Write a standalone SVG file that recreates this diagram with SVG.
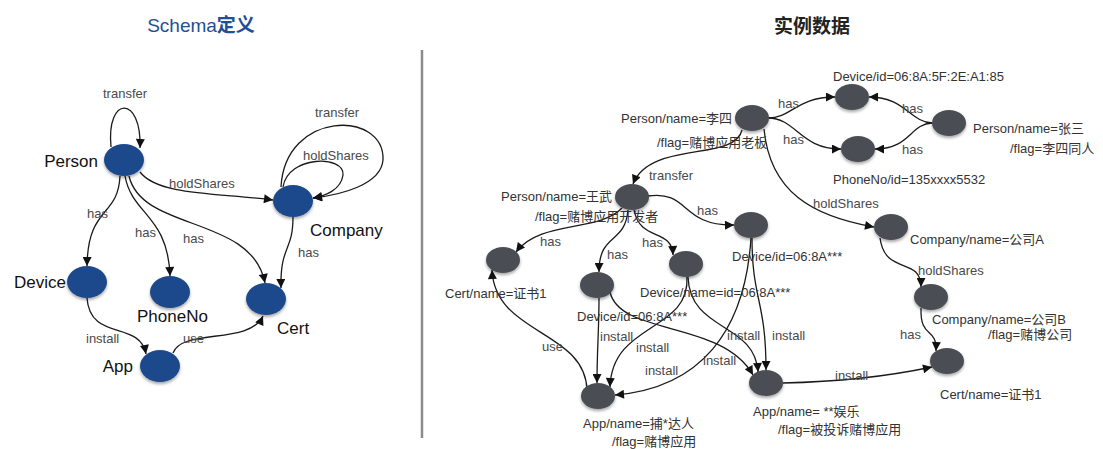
<svg xmlns="http://www.w3.org/2000/svg" width="1103" height="449" viewBox="0 0 1103 449">
  <style>
    text { font-family: "Liberation Sans", "Noto Sans CJK SC", sans-serif; }
    .title { font-size: 19px; }
    .schema-node { fill: #1c4a8b; filter: url(#shadow); }
    .data-node { fill: #4b4e55; filter: url(#shadow); }
    .schema-label { font-size: 17px; fill: #111; }
    .data-label { font-size: 13px; fill: #333; }
    .edge-label { font-size: 13px; fill: #4a4a4a; }
    .edge { fill: none; stroke: #1a1a1a; stroke-width: 1.3; marker-end: url(#arrow); }
  </style>
  <defs>
    <marker id="arrow" viewBox="0 0 10 10" refX="10" refY="5" markerWidth="10" markerHeight="9" markerUnits="userSpaceOnUse" orient="auto">
      <path d="M0,0 L10,5 L0,10 z" fill="#111"/>
    </marker>
    <filter id="shadow" x="-30%" y="-30%" width="160%" height="170%">
      <feDropShadow dx="0" dy="2" stdDeviation="1.6" flood-color="#000" flood-opacity="0.35"/>
    </filter>
  </defs>

  <rect width="1103" height="449" fill="#fff"/>

  <!-- headings and panel divider -->
  <text class="title" x="201" y="32" text-anchor="middle" fill="#1f4f96">Schema<tspan font-weight="bold">定义</tspan></text>
  <text class="title" x="812" y="33" text-anchor="middle" font-weight="bold" fill="#222">实例数据</text>
  <line x1="422" y1="50" x2="422" y2="438" stroke="#8c8c8c" stroke-width="2.5"/>

  <!-- connectors -->
  <g id="connectors">
    <!-- schema -->
    <path class="edge" d="M111 147 C106 95 142 95 140 148"/>
    <path class="edge" d="M140 172 C158 196 222 193 273 200"/>
    <path class="edge" d="M281 187 C285 110 385 110 383 160 C381 185 340 195 313 198"/>
    <path class="edge" d="M283 187 C288 155 345 155 343 175 C341 190 325 196 313 198"/>
    <path class="edge" d="M120 176 C118 218 88 205 87 266"/>
    <path class="edge" d="M125 176 C132 215 168 215 170 276"/>
    <path class="edge" d="M129 176 C142 232 252 215 265 283"/>
    <path class="edge" d="M293 217 C293 252 280 245 281 288"/>
    <path class="edge" d="M87 298 C90 342 140 320 146 354"/>
    <path class="edge" d="M173 353 C182 328 250 345 263 316"/>

    <!-- instance data -->
    <path class="edge" d="M768 118 C792 118 796 97 835 97"/>
    <path class="edge" d="M768 118 C796 118 800 149 841 149"/>
    <path class="edge" d="M932 123 C910 122 905 97 869 97"/>
    <path class="edge" d="M932 123 C910 124 910 149 875 149"/>
    <path class="edge" d="M742 130 C735 162 650 140 633 184"/>
    <path class="edge" d="M764 129 C770 192 812 216 874 227"/>
    <path class="edge" d="M648 196 C690 190 680 226 734 225"/>
    <path class="edge" d="M622 208 C600 232 540 220 516 252"/>
    <path class="edge" d="M628 210 C625 245 599 232 599 272"/>
    <path class="edge" d="M634 210 C640 242 672 228 673 255"/>
    <path class="edge" d="M599 298 C599 330 597 350 597 383"/>
    <path class="edge" d="M687 277 C690 332 612 322 610 387"/>
    <path class="edge" d="M751 238 C745 332 700 388 615 395"/>
    <path class="edge" d="M610 292 C620 336 722 320 753 375"/>
    <path class="edge" d="M688 277 C690 332 755 322 758 372"/>
    <path class="edge" d="M752 238 C752 300 766 300 766 370"/>
    <path class="edge" d="M587 390 C585 330 495 335 492 270"/>
    <path class="edge" d="M783 383 C830 382 880 378 932 367"/>
    <path class="edge" d="M880 238 C885 276 921 256 921 287"/>
    <path class="edge" d="M921 308 C920 340 937 326 936 351"/>
  </g>

  <!-- connector labels -->
  <g id="connector-labels">
    <text class="edge-label" x="103" y="98">transfer</text>
    <text class="edge-label" x="169" y="188">holdShares</text>
    <text class="edge-label" x="315" y="117">transfer</text>
    <text class="edge-label" x="303" y="160">holdShares</text>
    <text class="edge-label" x="87" y="218">has</text>
    <text class="edge-label" x="135" y="237">has</text>
    <text class="edge-label" x="183" y="243">has</text>
    <text class="edge-label" x="298" y="257">has</text>
    <text class="edge-label" x="86" y="343">install</text>
    <text class="edge-label" x="183" y="343">use</text>

    <text class="edge-label" x="778" y="108">has</text>
    <text class="edge-label" x="783" y="144">has</text>
    <text class="edge-label" x="902" y="113">has</text>
    <text class="edge-label" x="902" y="154">has</text>
    <text class="edge-label" x="649" y="180">transfer</text>
    <text class="edge-label" x="813" y="208">holdShares</text>
    <text class="edge-label" x="697" y="215">has</text>
    <text class="edge-label" x="540" y="246">has</text>
    <text class="edge-label" x="607" y="259">has</text>
    <text class="edge-label" x="642" y="247">has</text>
    <text class="edge-label" x="600" y="341">install</text>
    <text class="edge-label" x="636" y="352">install</text>
    <text class="edge-label" x="645" y="375">install</text>
    <text class="edge-label" x="703" y="365">install</text>
    <text class="edge-label" x="727" y="340">install</text>
    <text class="edge-label" x="772" y="340">install</text>
    <text class="edge-label" x="835" y="380">install</text>
    <text class="edge-label" x="542" y="351">use</text>
    <text class="edge-label" x="918" y="275">holdShares</text>
    <text class="edge-label" x="900" y="339">has</text>
  </g>

  <!-- schema nodes -->
  <g id="schema-person">
    <ellipse class="schema-node" cx="124" cy="160" rx="20" ry="16"/>
    <text class="schema-label" x="98" y="167" text-anchor="end">Person</text>
  </g>
  <g id="schema-company">
    <ellipse class="schema-node" cx="293" cy="201" rx="20" ry="16"/>
    <text class="schema-label" x="310" y="236">Company</text>
  </g>
  <g id="schema-device">
    <ellipse class="schema-node" cx="87" cy="282" rx="20" ry="16"/>
    <text class="schema-label" x="66" y="288" text-anchor="end">Device</text>
  </g>
  <g id="schema-phoneno">
    <ellipse class="schema-node" cx="170" cy="292" rx="20" ry="16"/>
    <text class="schema-label" x="137" y="322">PhoneNo</text>
  </g>
  <g id="schema-cert">
    <ellipse class="schema-node" cx="266" cy="299" rx="20" ry="16"/>
    <text class="schema-label" x="277" y="334">Cert</text>
  </g>
  <g id="schema-app">
    <ellipse class="schema-node" cx="160" cy="366" rx="20" ry="16"/>
    <text class="schema-label" x="133" y="372" text-anchor="end">App</text>
  </g>

  <!-- instance nodes -->
  <g id="person-lisi">
    <ellipse class="data-node" cx="752" cy="118" rx="17" ry="13"/>
    <text class="data-label" x="732" y="123" text-anchor="end">Person/name=李四</text>
    <text class="data-label" x="657" y="147">/flag=赌博应用老板</text>
  </g>
  <g id="device-5f2e">
    <ellipse class="data-node" cx="852" cy="97" rx="17" ry="13"/>
    <text class="data-label" x="833" y="81">Device/id=06:8A:5F:2E:A1:85</text>
  </g>
  <g id="phone-5532">
    <ellipse class="data-node" cx="858" cy="149" rx="17" ry="13"/>
    <text class="data-label" x="833" y="184">PhoneNo/id=135xxxx5532</text>
  </g>
  <g id="person-zhangsan">
    <ellipse class="data-node" cx="949" cy="123" rx="17" ry="13"/>
    <text class="data-label" x="973" y="133">Person/name=张三</text>
    <text class="data-label" x="1010" y="153">/flag=李四同人</text>
  </g>
  <g id="person-wangwu">
    <ellipse class="data-node" cx="632" cy="197" rx="17" ry="13"/>
    <text class="data-label" x="612" y="201" text-anchor="end">Person/name=王武</text>
    <text class="data-label" x="535" y="221">/flag=赌博应用开发者</text>
  </g>
  <g id="device-right">
    <ellipse class="data-node" cx="751" cy="225" rx="17" ry="13"/>
    <text class="data-label" x="732" y="261">Device/id=06:8A***</text>
  </g>
  <g id="cert-left">
    <ellipse class="data-node" cx="503" cy="260" rx="17" ry="13"/>
    <text class="data-label" x="445" y="298">Cert/name=证书1</text>
  </g>
  <g id="device-left">
    <ellipse class="data-node" cx="597" cy="285" rx="17" ry="13"/>
    <text class="data-label" x="577" y="321">Device/id=06:8A***</text>
  </g>
  <g id="device-name">
    <ellipse class="data-node" cx="686" cy="264" rx="17" ry="13"/>
    <text class="data-label" x="640" y="297">Device/name=id=06:8A***</text>
  </g>
  <g id="app-buda">
    <ellipse class="data-node" cx="598" cy="396" rx="17" ry="13"/>
    <text class="data-label" x="583" y="428">App/name=捕*达人</text>
    <text class="data-label" x="612" y="446">/flag=赌博应用</text>
  </g>
  <g id="app-yule">
    <ellipse class="data-node" cx="766" cy="383" rx="17" ry="13"/>
    <text class="data-label" x="753" y="416">App/name= **娱乐</text>
    <text class="data-label" x="778" y="434">/flag=被投诉赌博应用</text>
  </g>
  <g id="company-a">
    <ellipse class="data-node" cx="891" cy="227" rx="17" ry="13"/>
    <text class="data-label" x="910" y="244">Company/name=公司A</text>
  </g>
  <g id="company-b">
    <ellipse class="data-node" cx="931" cy="297" rx="17" ry="13"/>
    <text class="data-label" x="932" y="324">Company/name=公司B</text>
    <text class="data-label" x="988" y="339">/flag=赌博公司</text>
  </g>
  <g id="cert-right">
    <ellipse class="data-node" cx="947" cy="361" rx="17" ry="13"/>
    <text class="data-label" x="940" y="399">Cert/name=证书1</text>
  </g>
</svg>
